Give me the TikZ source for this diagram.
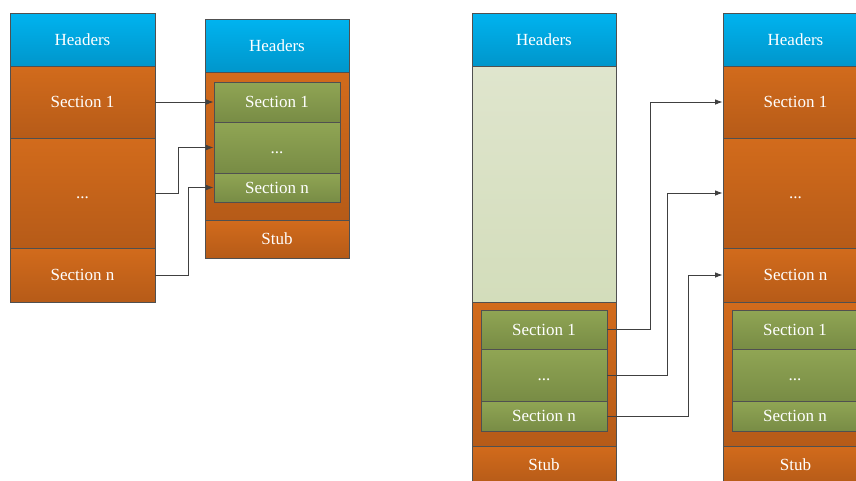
\documentclass[tikz,border=0pt]{standalone}
\usepackage{fontspec}
\setmainfont{Liberation Serif}
\usetikzlibrary{arrows.meta,shadows}

\definecolor{edgec}{HTML}{505050}
\definecolor{linkc}{HTML}{404040}
\definecolor{blueT}{HTML}{00B3EF}
\definecolor{blueB}{HTML}{0096CB}
\definecolor{orT}{HTML}{D26B1C}
\definecolor{orB}{HTML}{B65B18}
\definecolor{grT}{HTML}{90A554}
\definecolor{grB}{HTML}{788C45}
\definecolor{paT}{HTML}{DFE5CD}
\definecolor{paB}{HTML}{D3DDBB}

\tikzset{
  cell/.style={draw=edgec, line width=0.8pt, rectangle, inner sep=0pt,
    text=white, font=\fontsize{17}{20}\selectfont, minimum width=145pt,
    text height=11.5pt, text depth=0pt},
  outer/.style={drop shadow={shadow xshift=1.2pt, shadow yshift=-1.2pt,
    fill=black, opacity=0.12}},
  hdr/.style={cell, top color=blueT, bottom color=blueB},
  orng/.style={cell, top color=orT, bottom color=orB},
  grn/.style={cell, top color=grT, bottom color=grB, minimum width=126pt},
  pale/.style={cell, top color=paT, bottom color=paB},
  link/.style={draw=linkc, line width=0.8pt, -{Latex[length=7.5pt,width=5.5pt]}},
}

\begin{document}
\begin{tikzpicture}[x=1pt,y=1pt]
\useasboundingbox (0,0) rectangle (856,-480);
\clip (0,0) rectangle (856,-480);

% ---- file with separate sections
\node[hdr, outer, minimum height=53pt] (aH) at (82.5,-39.5) {Headers};
\node[orng, outer, minimum height=72pt] (a1) at (82.5,-102) {Section 1};
\node[orng, outer, minimum height=110pt] (ad) at (82.5,-193) {...};
\node[orng, outer, minimum height=54pt] (an) at (82.5,-275) {Section n};

% ---- file with sections packed before the stub
\node[hdr, outer, minimum width=144pt, minimum height=52.5pt] (bH) at (277,-45.75) {Headers};
\node[orng, outer, minimum width=144pt, minimum height=148pt] (bC) at (277,-146) {};
\node[orng, outer, minimum width=144pt, minimum height=38pt] (bS) at (277,-239) {Stub};
\node[grn, minimum height=40pt] (b1) at (277,-102) {Section 1};
\node[grn, minimum height=51pt] (bd) at (277,-147.5) {...};
\node[grn, minimum height=29pt] (bn) at (277,-187.5) {Section n};

% ---- packed file with empty body
\node[hdr, outer, minimum width=144pt, minimum height=53pt] (cH) at (544,-39.5) {Headers};
\node[pale, outer, minimum width=144pt, minimum height=236pt] (cP) at (544,-184) {};
\node[orng, outer, minimum width=144pt, minimum height=144pt] (cC) at (544,-374) {};
\node[orng, outer, minimum width=144pt, minimum height=38pt] (cS) at (544,-465) {Stub};
\node[grn, minimum height=39pt] (c1) at (544,-329.5) {Section 1};
\node[grn, minimum height=52pt] (cd) at (544,-375) {...};
\node[grn, minimum height=30pt] (cn) at (544,-416) {Section n};

% ---- unpacked file keeping the packed copy
\node[hdr, outer, minimum height=53pt] (dH) at (795.5,-39.5) {Headers};
\node[orng, outer, minimum height=72pt] (d1) at (795.5,-102) {Section 1};
\node[orng, outer, minimum height=110pt] (dd) at (795.5,-193) {...};
\node[orng, outer, minimum height=54pt] (dn) at (795.5,-275) {Section n};
\node[orng, outer, minimum height=144pt] (dC) at (795.5,-374) {};
\node[orng, outer, minimum height=38pt] (dS) at (795.5,-465) {Stub};
\node[grn, minimum height=39pt] (e1) at (795,-329.5) {Section 1};
\node[grn, minimum height=52pt] (ed) at (795,-375) {...};
\node[grn, minimum height=30pt] (en) at (795,-416) {Section n};

% ---- connectors
\draw[link] (a1.east) -- (b1.west);
\draw[link] (ad.east) -- ++(23,0) |- (bd.west);
\draw[link] (an.east) -- ++(33,0) |- (bn.west);

\draw[link] (c1.east) -- ++(43,0) |- (d1.west);
\draw[link] (cd.east) -- ++(60,0) |- (dd.west);
\draw[link] (cn.east) -- ++(81,0) |- (dn.west);
\end{tikzpicture}
\end{document}
